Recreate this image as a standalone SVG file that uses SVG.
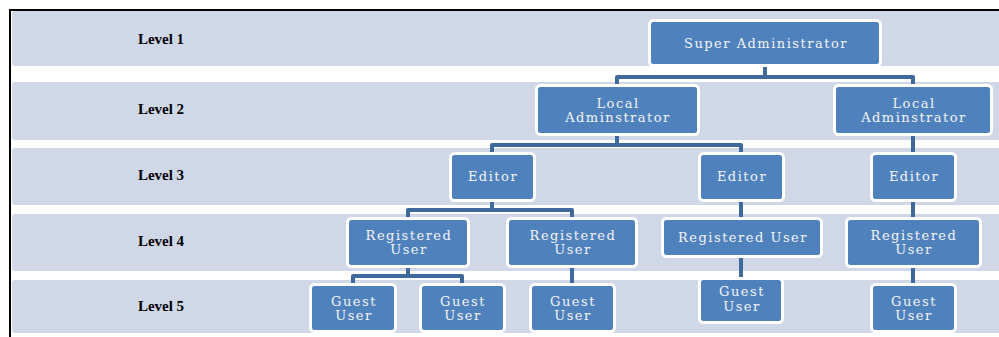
<svg xmlns="http://www.w3.org/2000/svg" width="999" height="337" viewBox="0 0 999 337">
<style>
.band{fill:#d0d8e8}
.node rect{fill:#4f81bd;stroke:#ffffff;stroke-width:3}
.node text{fill:#f4f4f4;font-family:"DejaVu Serif","Liberation Serif",serif;font-size:13px;letter-spacing:1.5px;text-anchor:middle}
.lvl{fill:#000;font-family:"Liberation Serif","DejaVu Serif",serif;font-size:15px;font-weight:bold;text-anchor:middle}
.conn{fill:none;stroke:#40699b;stroke-width:4;stroke-linejoin:round}
</style>
<rect x="0" y="0" width="999" height="337" fill="#ffffff"/>
<g id="bands">
<rect class="band" x="12" y="11" width="990" height="55" rx="3"/>
<rect class="band" x="12" y="82" width="990" height="58" rx="3"/>
<rect class="band" x="12" y="148" width="990" height="57" rx="3"/>
<rect class="band" x="12" y="214" width="990" height="57" rx="3"/>
<rect class="band" x="12" y="280" width="990" height="53" rx="3"/>
</g>
<g id="frame" stroke="#000" stroke-width="2">
<line x1="9" y1="10" x2="999" y2="10"/>
<line x1="10" y1="9" x2="10" y2="337"/>
</g>
<g id="levels">
<text class="lvl" x="161" y="44">Level 1</text>
<text class="lvl" x="161" y="114">Level 2</text>
<text class="lvl" x="161" y="180">Level 3</text>
<text class="lvl" x="161" y="246">Level 4</text>
<text class="lvl" x="161" y="311">Level 5</text>
</g>
<g id="connectors">
<path class="conn" d="M765 66 V77 H617 V85 M765 77 H913 V85"/>
<path class="conn" d="M617 135 V145 H492 V153 M617 145 H741 V153"/>
<path class="conn" d="M913 135 V153"/>
<path class="conn" d="M492 201 V210 H408 V218 M492 210 H572 V218"/>
<path class="conn" d="M741 201 V218"/>
<path class="conn" d="M913 201 V218"/>
<path class="conn" d="M408 267 V276 H353 V284 M408 276 H462 V284"/>
<path class="conn" d="M572 267 V284"/>
<path class="conn" d="M741 257 V278"/>
<path class="conn" d="M913 267 V284"/>
</g>
<g id="super-admin" class="node"><rect x="649.5" y="20.5" width="231" height="45" rx="4"/><text x="766" y="48">Super Administrator</text></g>
<g id="local-admin-1" class="node"><rect x="536.5" y="85.5" width="162" height="49" rx="4"/><text x="618" y="108">Local</text><text x="618" y="122">Adminstrator</text></g>
<g id="local-admin-2" class="node"><rect x="834.5" y="85.5" width="157" height="49" rx="4"/><text x="914" y="108">Local</text><text x="914" y="122">Adminstrator</text></g>
<g id="editor-1" class="node"><rect x="450.5" y="153.5" width="84" height="47" rx="4"/><text x="493" y="181">Editor</text></g>
<g id="editor-2" class="node"><rect x="699.5" y="153.5" width="84" height="47" rx="4"/><text x="742" y="181">Editor</text></g>
<g id="editor-3" class="node"><rect x="871.5" y="153.5" width="84" height="47" rx="4"/><text x="914" y="181">Editor</text></g>
<g id="reg-user-1" class="node"><rect x="347.5" y="218.5" width="121" height="48" rx="4"/><text x="409" y="240">Registered</text><text x="409" y="254">User</text></g>
<g id="reg-user-2" class="node"><rect x="507.5" y="218.5" width="129" height="48" rx="4"/><text x="573" y="240">Registered</text><text x="573" y="254">User</text></g>
<g id="reg-user-3" class="node"><rect x="662.5" y="218.5" width="159" height="38" rx="4"/><text x="743" y="242">Registered User</text></g>
<g id="reg-user-4" class="node"><rect x="846.5" y="218.5" width="134" height="48" rx="4"/><text x="914" y="240">Registered</text><text x="914" y="254">User</text></g>
<g id="guest-1" class="node"><rect x="310.5" y="284.5" width="85" height="47" rx="4"/><text x="354" y="306">Guest</text><text x="354" y="320">User</text></g>
<g id="guest-2" class="node"><rect x="420.5" y="284.5" width="84" height="47" rx="4"/><text x="463" y="306">Guest</text><text x="463" y="320">User</text></g>
<g id="guest-3" class="node"><rect x="530.5" y="284.5" width="84" height="47" rx="4"/><text x="573" y="306">Guest</text><text x="573" y="320">User</text></g>
<g id="guest-4" class="node"><rect x="699.5" y="278.5" width="83" height="44" rx="4"/><text x="742" y="296">Guest</text><text x="742" y="311">User</text></g>
<g id="guest-5" class="node"><rect x="871.5" y="284.5" width="84" height="47" rx="4"/><text x="914" y="306">Guest</text><text x="914" y="320">User</text></g>
</svg>
